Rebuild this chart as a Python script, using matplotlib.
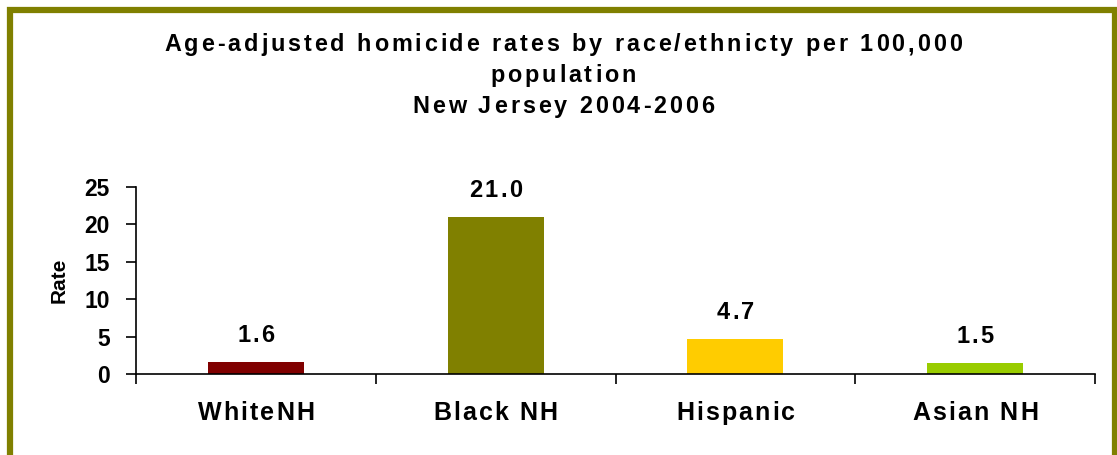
import matplotlib

matplotlib.use("Agg")
import matplotlib.pyplot as plt
from matplotlib.font_manager import FontProperties, findfont, get_font
from matplotlib.patches import Rectangle

groups = ["WhiteNH", "Black NH", "Hispanic", "Asian NH"]
rates = [1.6, 21.0, 4.7, 1.5]
bar_colors = ["#800000", "#808000", "#FFCC00", "#99CC00"]
yticks = [0, 5, 10, 15, 20, 25]
title_lines = ["Age-adjusted homicide rates by race/ethnicty per 100,000",
               "population",
               "New Jersey 2004-2006"]

W, H, DPI = 1117, 455, 100
FAMILY = ["Liberation Sans", "DejaVu Sans"]
plt.rcParams["font.family"] = FAMILY
plt.rcParams["font.weight"] = "bold"


def spaced_text(fig, cx, cy, s, size, track):
    """Bold text centred on pixel (cx, cy), with extra letter spacing."""
    fp = FontProperties(family=FAMILY, weight="bold", size=size)
    font = get_font(findfont(fp))
    font.set_size(size, DPI)
    adv = []
    for ch in s:
        g = font.load_char(ord(ch))
        adv.append(g.linearHoriAdvance / 65536)
    total = sum(adv) + track * (len(s) - 1)
    base = cy - 0.716 * size * DPI / 72 / 2
    x = cx - total / 2
    for ch, a in zip(s, adv):
        fig.text(x / W, base / H, ch, fontproperties=fp, ha="left", va="baseline")
        x += a + track


fig = plt.figure(figsize=(W / DPI, H / DPI), dpi=DPI)

# olive frame; its bottom edge runs off the canvas
fig.patches.append(Rectangle((10 / W, -0.05), 1105 / W, 1.05 - 10 / H,
                             transform=fig.transFigure, fill=False,
                             edgecolor="#808000", linewidth=4.5))

ax = fig.add_axes([136 / W, 1 - 374 / H, (1095 - 136) / W, (374 - 187) / H])
x = list(range(len(groups)))
bars = ax.bar(x, rates, width=0.4, color=bar_colors)

ax.set_xlim(-0.5, len(groups) - 0.5)
ax.set_ylim(0, 25)
ax.set_yticks(yticks)
ax.set_xticks(x)
ax.set_xticklabels([])
ax.set_xticks([i - 0.5 for i in range(len(groups) + 1)], minor=True)
ax.tick_params(axis="x", which="major", length=0)
ax.tick_params(axis="x", which="minor", length=7, direction="out", width=1.2)
ax.tick_params(axis="y", length=7, width=1.2, pad=12, labelsize=16.5)
for side in ("top", "right"):
    ax.spines[side].set_visible(False)
for side in ("left", "bottom"):
    ax.spines[side].set_linewidth(1.2)
ax.set_ylabel("Rate", fontsize=15, fontweight="bold", labelpad=11)

# value labels above the bars and category names under the axis
for b, v, name in zip(bars, rates, groups):
    px, py = ax.transData.transform((b.get_x() + b.get_width() / 2, v))
    spaced_text(fig, px, py + 28, f"{v:.1f}", 17, 2.2)
    px0, py0 = ax.transData.transform((b.get_x() + b.get_width() / 2, 0))
    spaced_text(fig, px0, py0 - 37, name, 18, 2.1)

for i, line in enumerate(title_lines):
    spaced_text(fig, 563, H - (43 + 31 * i), line, 16.8, 2.9)

fig.savefig("out.png", dpi=DPI)
